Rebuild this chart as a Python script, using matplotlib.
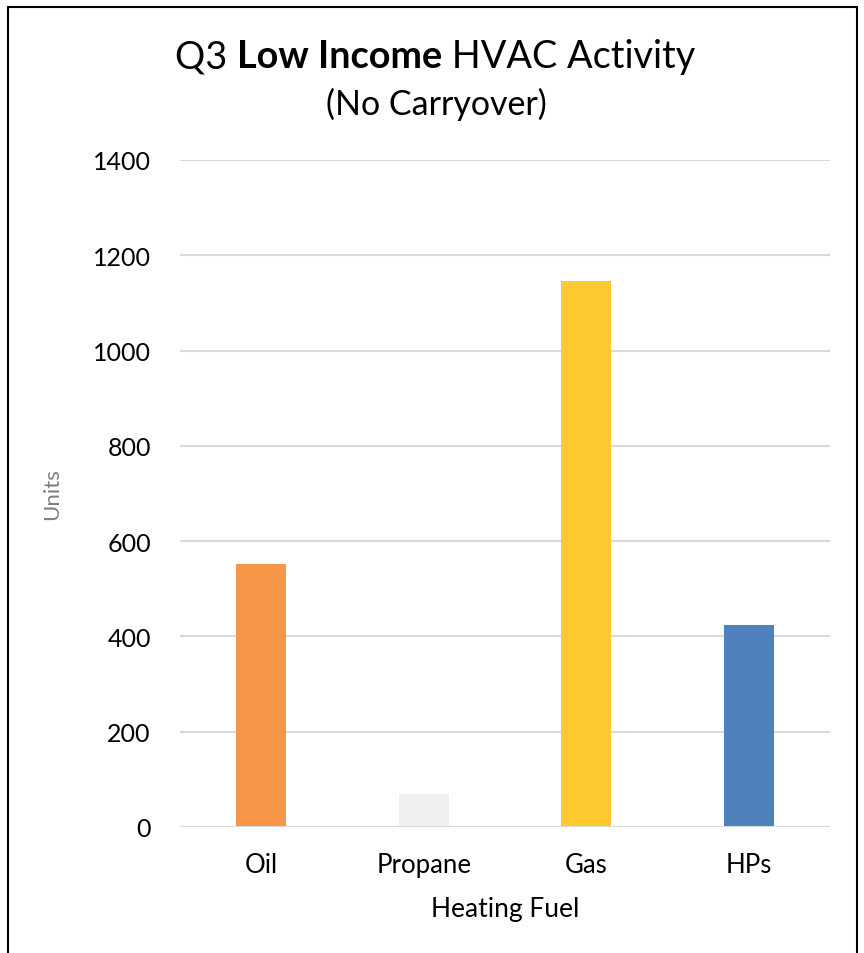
import matplotlib
matplotlib.use("Agg")
import matplotlib.pyplot as plt
from matplotlib.patches import Rectangle

plt.rcParams['font.family'] = ['Lato', 'DejaVu Sans']

fuels = ["Oil", "Propane", "Gas", "HPs"]
units = [553, 69, 1145, 425]
colors = ["#F79646", "#EFEFEF", "#FFCA2F", "#4F81BD"]
yticks = [0, 200, 400, 600, 800, 1000, 1200, 1400]

W, H = 864, 954
fig = plt.figure(figsize=(W / 100, H / 100), dpi=100)
ax = fig.add_axes([180 / W, 1 - 828 / H, 650 / W, 667 / H])

x = range(len(fuels))
ax.bar(x, units, width=0.31, color=colors, zorder=3)
ax.set_xlim(-0.5, 3.5)
ax.set_ylim(0, 1400)
ax.set_yticks(yticks)
ax.set_xticks(list(x))
ax.set_xticklabels(fuels, fontsize=18.5)
ax.tick_params(axis='y', labelsize=18, length=0, pad=21)
ax.tick_params(axis='x', length=0, pad=18)
ax.grid(axis='y', color='#D9D9D9', linewidth=1.5, zorder=0)
for s in ax.spines.values():
    s.set_visible(False)
ax.axhline(0, color='#D9D9D9', linewidth=1.5, zorder=4)

ax.set_ylabel("Units", fontsize=16, color='#7F7F7F')
ax.yaxis.set_label_coords(-(180 - 62) / 650, 0.5)
ax.set_xlabel("Heating Fuel", fontsize=19, labelpad=14)

# title with a bold middle part
parts = [("Q3 ", 'normal'), ("Low Income", 'bold'), (" HVAC Activity", 'normal')]
fig.canvas.draw()
r = fig.canvas.get_renderer()
texts = []
widths = []
for s, wgt in parts:
    t = fig.text(0, 0, s, fontsize=27.3, fontweight=wgt, va='baseline', ha='left')
    texts.append(t)
    widths.append(t.get_window_extent(r).width)
xs = 435 - sum(widths) / 2
for t, w in zip(texts, widths):
    t.set_position((xs / W, 1 - 68 / H))
    xs += w
fig.text(436 / W, 1 - 104 / H, "(No Carryover)", fontsize=24.5, ha='center', va='center')

fig.patches.append(Rectangle((8 / W, -0.02), 849 / W, 1 - 8 / H + 0.02,
                             transform=fig.transFigure, fill=False,
                             edgecolor='black', linewidth=1.5))

fig.savefig("out.png", dpi=100)
